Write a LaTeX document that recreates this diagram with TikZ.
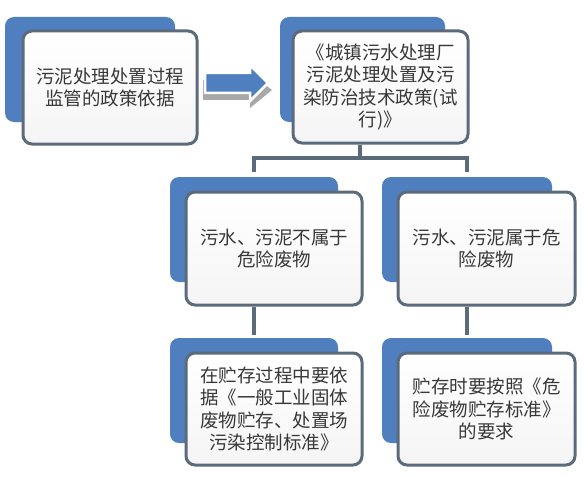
\documentclass[tikz,border=0pt]{standalone}
\usepackage{fontspec}
\newfontfamily\cjk{Noto Sans CJK SC}
\definecolor{backblue}{HTML}{4F7FBE}
\definecolor{frameline}{HTML}{5B6B7C}
\definecolor{txt}{HTML}{383838}
\definecolor{shadowgray}{HTML}{A8A8A8}
\tikzset{
  backbox/.style={fill=backblue, rounded corners=9pt, inner sep=0pt},
  frontbox/.style={draw=frameline, line width=3pt, rounded corners=9pt, top color=white, bottom color=black!4,
    inner sep=0pt, align=center, text=txt, font=\cjk\fontsize{18.5pt}{22.5pt}\selectfont},
  link/.style={draw=frameline, line width=3.5pt}
}
\begin{document}
\begin{tikzpicture}[x=1pt,y=-1pt]
\useasboundingbox (0,0) rectangle (588,476);
\fill[white] (0,0) rectangle (588,476);

% row 1
\node[backbox, minimum width=170pt, minimum height=105pt] (b1) at (90,69.5) {};
\node[frontbox, minimum width=174pt, minimum height=113pt] (f1) at (110,87.5) {污泥处理处置过程\\监管的政策依据};

\node[backbox, minimum width=165pt, minimum height=105pt] (b2) at (362.5,69.5) {};
\node[frontbox, minimum width=175pt, minimum height=112pt] (f2) at (380.5,87) {《城镇污水处理厂\\污泥处理处置及污\\染防治技术政策(试\\行)》};

% arrow
\fill[shadowgray] (203,80) -- (250,80) -- (250,73) -- (272,90) -- (250,108) -- (250,100) -- (203,100) -- cycle;
\draw[white, line width=2.5pt, fill=backblue] (205,73) -- (250,73) -- (250,65) -- (268,83) -- (250,101) -- (250,93) -- (205,93) -- cycle;

% row 2
\node[backbox, minimum width=168pt, minimum height=105pt] (b3) at (254,229.5) {};
\node[frontbox, minimum width=176pt, minimum height=113pt] (f3) at (274,248.5) {污水、污泥不属于\\危险废物};
\node[backbox, minimum width=170pt, minimum height=105pt] (b4) at (467,229.5) {};
\node[frontbox, minimum width=177pt, minimum height=113pt] (f4) at (486.5,248.5) {污水、污泥属于危\\险废物};

% row 3
\node[backbox, minimum width=168pt, minimum height=105pt] (b5) at (254,390.5) {};
\node[frontbox, minimum width=176pt, minimum height=112pt] (f5) at (274,409) {在贮存过程中要依\\据《一般工业固体\\废物贮存、处置场\\污染控制标准》};
\node[backbox, minimum width=170pt, minimum height=105pt] (b6) at (467,390.5) {};
\node[frontbox, minimum width=177pt, minimum height=112pt] (f6) at (486.5,409) {贮存时要按照《危\\险废物贮存标准》\\的要求};

% connectors
\coordinate (j) at (360,158);
\coordinate (jl) at (254,158);
\coordinate (jr) at (467,158);
\draw[link] (f2.south -| j) -- (j);
\draw[link, line cap=rect] (jl) -- (jr);
\draw[link] (jl) -- ++(0,14);
\draw[link] (jr) -- ++(0,14);
\draw[link] (f3.south -| b3.center) -- ++(0,28);
\draw[link] (f4.south -| b4.center) -- ++(0,28);
\end{tikzpicture}
\end{document}
